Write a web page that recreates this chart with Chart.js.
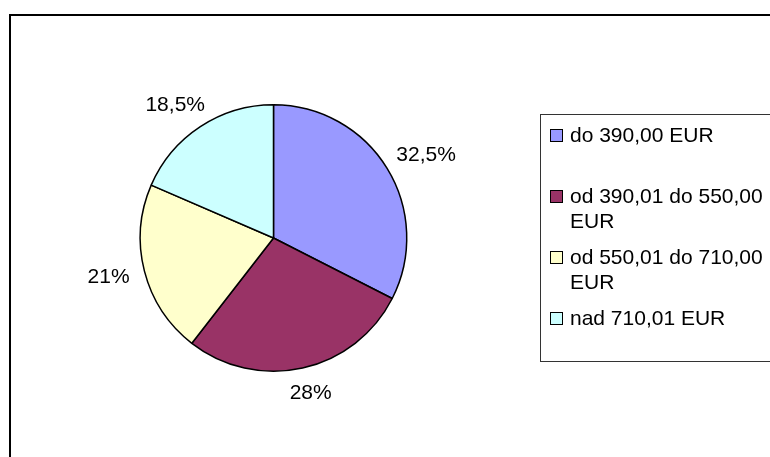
<!DOCTYPE html>
<html>
<head>
<meta charset="utf-8">
<script src="https://cdn.jsdelivr.net/npm/chart.js@4.4.1/dist/chart.umd.min.js"></script>
<style>
  html, body { margin: 0; padding: 0; background: #fff; }
  body { width: 770px; height: 457px; overflow: hidden; position: relative; font-family: "Liberation Sans", Arial, sans-serif; }
  #frame { position: absolute; left: 9px; top: 14px; width: 800px; height: 500px; border: 2px solid #000; box-sizing: border-box; }
  #chartWrap { position: absolute; left: 0; top: 0; width: 770px; height: 457px; }
  #legend { position: absolute; left: 540px; top: 114px; width: 260px; height: 248px; border: 1px solid #333; box-sizing: border-box; padding-top: 7px; }
  .item { display: flex; align-items: flex-start; height: 61px; font-size: 21px; line-height: 25px; color: #000; }
  .box { width: 11px; height: 11px; border: 1px solid #000; margin: 7px 7px 0 9px; flex: none; }
  .txt { width: 210px; }
</style>
</head>
<body>
<div id="frame"></div>
<div id="chartWrap"><canvas id="pieChart" width="770" height="457"></canvas></div>
<div id="legend"></div>

<script>
// values (percent shares)
const categories = ['do 390,00 EUR', 'od 390,01 do 550,00 EUR', 'od 550,01 do 710,00 EUR', 'nad 710,01 EUR'];
const shares = [32.5, 28, 21, 18.5];
const valueLabels = ['32,5%', '28%', '21%', '18,5%'];
const sliceColors = ['#9999FF', '#993366', '#FFFFCC', '#CCFFFF'];

// labels outside the slices, placed along each arc's mid angle
const outsideLabels = {
  id: 'outsideLabels',
  afterDatasetsDraw(chart) {
    const ctx = chart.ctx;
    const meta = chart.getDatasetMeta(0);
    ctx.save();
    ctx.font = '21px "Liberation Sans", Arial, sans-serif';
    ctx.fillStyle = '#000';
    ctx.textAlign = 'center';
    ctx.textBaseline = 'middle';
    meta.data.forEach((arc, i) => {
      const mid = (arc.startAngle + arc.endAngle) / 2;
      const cos = Math.cos(mid), sin = Math.sin(mid);
      const text = valueLabels[i];
      const w = ctx.measureText(text).width;
      const h = 20;
      const d = arc.outerRadius + 16;
      const x = arc.x + cos * d + cos * w / 2;
      const y = arc.y + sin * d + sin * h / 2;
      ctx.fillText(text, x, y);
    });
    ctx.restore();
  }
};

const ctx = document.getElementById('pieChart').getContext('2d');
new Chart(ctx, {
  type: 'pie',
  data: {
    labels: categories,
    datasets: [{
      data: shares,
      backgroundColor: sliceColors,
      borderColor: '#000',
      borderWidth: 1.5
    }]
  },
  options: {
    responsive: false,
    animation: false,
    layout: { padding: { left: 139, top: 104, right: 362, bottom: 85 } },
    plugins: {
      legend: { display: false },
      tooltip: { enabled: false }
    }
  },
  plugins: [outsideLabels]
});

// legend built from the same arrays
const legendEl = document.getElementById('legend');
categories.forEach((name, i) => {
  const item = document.createElement('div');
  item.className = 'item';
  const box = document.createElement('span');
  box.className = 'box';
  box.style.background = sliceColors[i];
  const txt = document.createElement('span');
  txt.className = 'txt';
  txt.textContent = name;
  item.appendChild(box);
  item.appendChild(txt);
  legendEl.appendChild(item);
});
</script>
</body>
</html>
